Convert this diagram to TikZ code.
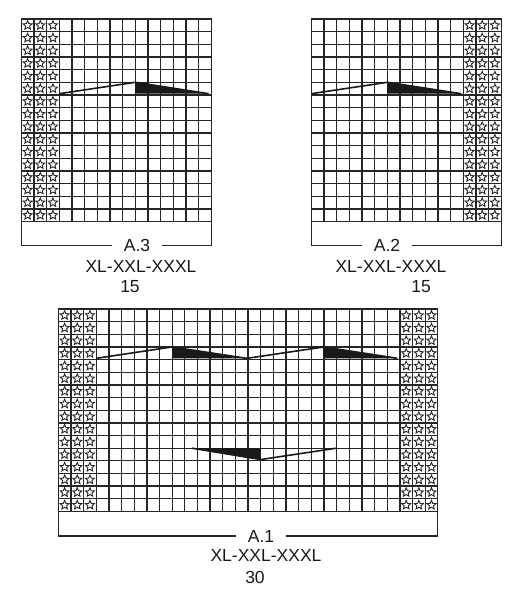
\documentclass[tikz,border=0pt]{standalone}
\usepackage{fontspec}
\setmainfont{Liberation Sans}
\usetikzlibrary{shapes.geometric}

\begin{document}
\begin{tikzpicture}[x=1pt,y=-1pt]
	\tikzstyle{gridline}
	  =[draw=black!85, line width=1.3pt, line cap=rect]
	\tikzstyle{starcell}
	  =[draw=black!85, star, star points=5, star point ratio=2.2,
	  line width=0.9pt, inner sep=0pt, minimum size=9.4pt]
	\tikzstyle{shapeline}
	  =[black!90, line width=1.6pt]
	\tikzstyle{chartname}
	  =[font=\fontsize{17.5}{20}\selectfont, text=black!90,
	  inner ysep=0pt, inner xsep=12pt]
	\tikzstyle{chartinfo}
	  =[font=\fontsize{17.5}{20}\selectfont, text=black!90,
	  inner sep=0pt, anchor=base]

	\useasboundingbox (0,0) rectangle (521,600);

	% A.3
	\node[chartname] (A3) at (137,245.7) {A.3};
	\node[chartinfo] (A3sizes) at (141,272.3) {XL-XXL-XXXL};
	\node[chartinfo] (A3count) at (130,292) {15};
	\begin{scope}[shift={(21.3,19)}, x=12.66pt, y=-12.66pt]
	  \foreach \c in {0,...,15}
	    \draw[gridline] (\c,0) -- (\c,16);
	  \foreach \r in {0,...,16}
	    \draw[gridline] (0,\r) -- (15,\r);
	  \foreach \r in {0,...,15}
	    \foreach \c in {0,1,2}
	      \node[starcell] (A3s\r-\c) at (\c+0.5,\r+0.5) {};
	  \draw[gridline] (0,16) |- (A3.west);
	  \draw[gridline] (15,16) |- (A3.east);
	  \fill[black!90] (9,5) -- (9,5.9) -- (14.8,5.9) -- cycle;
	  \draw[shapeline] (3,5.9) -- (9,5) -- (14.8,5.9);
	\end{scope}

	% A.2
	\node[chartname] (A2) at (387,245.7) {A.2};
	\node[chartinfo] (A2sizes) at (391,272.3) {XL-XXL-XXXL};
	\node[chartinfo] (A2count) at (421,292) {15};
	\begin{scope}[shift={(311.3,19)}, x=12.66pt, y=-12.66pt]
	  \foreach \c in {0,...,15}
	    \draw[gridline] (\c,0) -- (\c,16);
	  \foreach \r in {0,...,16}
	    \draw[gridline] (0,\r) -- (15,\r);
	  \foreach \r in {0,...,15}
	    \foreach \c in {12,13,14}
	      \node[starcell] (A2s\r-\c) at (\c+0.5,\r+0.5) {};
	  \draw[gridline] (0,16) |- (A2.west);
	  \draw[gridline] (15,16) |- (A2.east);
	  \fill[black!90] (6,5) -- (6,5.9) -- (11.85,5.9) -- cycle;
	  \draw[shapeline] (0,5.9) -- (6,5) -- (11.85,5.9);
	\end{scope}

	% A.1
	\node[chartname] (A1) at (261,536) {A.1};
	\node[chartinfo] (A1sizes) at (266,561.7) {XL-XXL-XXXL};
	\node[chartinfo] (A1count) at (255,583) {30};
	\begin{scope}[shift={(58.3,309)}, x=12.65pt, y=-12.65pt]
	  \foreach \c in {0,...,30}
	    \draw[gridline] (\c,0) -- (\c,16);
	  \foreach \r in {0,...,16}
	    \draw[gridline] (0,\r) -- (30,\r);
	  \foreach \r in {0,...,15}
	    \foreach \c in {0,1,2,27,28,29}
	      \node[starcell] (A1s\r-\c) at (\c+0.5,\r+0.5) {};
	  \draw[gridline] (0,16) |- (A1.west);
	  \draw[gridline] (30,16) |- (A1.east);
	  % upper row of decreases
	  \fill[black!90] (9,3) -- (9,3.9) -- (14.9,3.9) -- cycle;
	  \fill[black!90] (21,3) -- (21,3.9) -- (26.8,3.9) -- cycle;
	  \draw[shapeline] (3,3.9) -- (9,3) -- (14.9,3.9) -- (21,3) -- (26.8,3.9);
	  % lower row
	  \fill[black!90] (10.55,11) -- (16,11) -- (16,11.9) -- cycle;
	  \draw[shapeline] (10.55,11) -- (16,11.9) -- (22,11);
	\end{scope}
\end{tikzpicture}
\end{document}
